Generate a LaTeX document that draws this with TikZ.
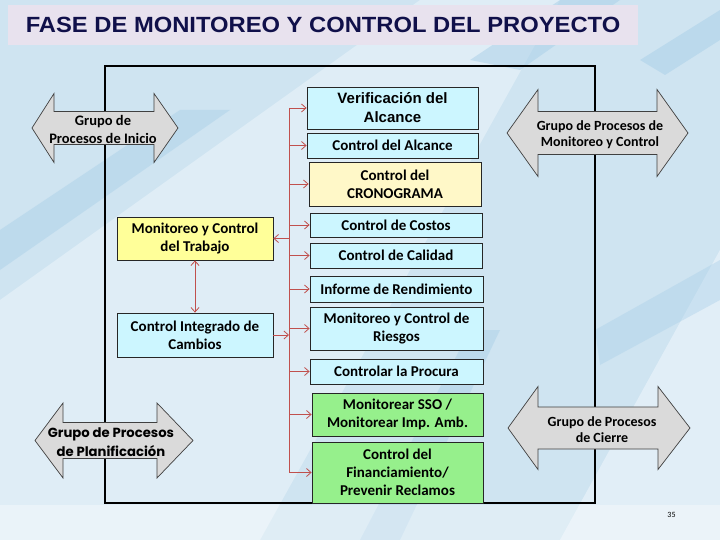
\documentclass[tikz,border=0pt]{standalone}
\usepackage{fontspec}
\setmainfont{Carlito}
\newfontfamily\arialf{Liberation Sans}
\newfontfamily\arialw[FakeStretch=1.08]{Liberation Sans}
\newfontfamily\gothicf{Poppins}
\usetikzlibrary{arrows.meta}
\definecolor{bgblue}{HTML}{CFE4F1}
\definecolor{bgdark}{HTML}{A9CFE8}
\definecolor{bglight}{HTML}{EAF3FA}
\definecolor{titlebg}{HTML}{E8E2EE}
\definecolor{titletxt}{HTML}{10104A}
\definecolor{cyanbox}{HTML}{CCF6FF}
\definecolor{yelbox}{HTML}{FFFF99}
\definecolor{paleyel}{HTML}{FFF8C8}
\definecolor{grnbox}{HTML}{96F08C}
\definecolor{connred}{HTML}{C0504D}
\definecolor{arrgray}{HTML}{DADADA}
\tikzset{
  box/.style={draw=black!85, line width=0.8pt, align=center, inner sep=1pt,
    font=\bfseries\fontsize{15}{18}\selectfont},
  cbox/.style={box, fill=cyanbox},
  ybox/.style={box, fill=yelbox},
  pbox/.style={box, fill=paleyel},
  gbox/.style={box, fill=grnbox},
  conn/.style={draw=connred, line width=0.8pt},
  tipped/.style={conn, -{Straight Barb[length=4.5pt,width=8pt]}},
  bitipped/.style={conn, {Straight Barb[length=4.5pt,width=8pt]}-{Straight Barb[length=4.5pt,width=8pt]}},
  garrow/.style={fill=arrgray, draw=black!75, line width=0.7pt, line join=miter},
  arrtext/.style={align=center, inner sep=0pt, font=\bfseries\fontsize{14}{16}\selectfont}
}
\begin{document}
\begin{tikzpicture}[x=1pt,y=-1pt]
\useasboundingbox (0,0) rectangle (720,540);
% background
\fill[bgblue] (0,0) rectangle (720,540);
\begin{scope}
\clip (0,0) rectangle (720,540);
\fill[bglight, opacity=0.6] (0,300) -- (0,540) -- (260,540) -- (560,0) -- (420,0) -- cycle;
\fill[bglight, opacity=0.7] (560,540) -- (720,540) -- (720,250) -- cycle;
\fill[bgdark, opacity=0.5] (470,60) -- (560,0) -- (620,0) -- (520,70) -- cycle;
\fill[bgdark, opacity=0.5] (640,60) -- (720,10) -- (720,40) -- (665,75) -- cycle;
\fill[bgdark, opacity=0.45] (0,230) -- (180,110) -- (230,110) -- (0,270) -- cycle;
\fill[bgdark, opacity=0.45] (360,540) -- (470,330) -- (500,330) -- (400,540) -- cycle;
\fill[bgdark, opacity=0.4] (595,330) -- (720,260) -- (720,300) -- (600,365) -- cycle;
\fill[white, opacity=0.35] (0,505) -- (720,505) -- (720,540) -- (0,540) -- cycle;
\end{scope}
% title
\node[fill=titlebg, minimum width=630, minimum height=40, inner sep=0pt,
  text=titletxt, font=\arialw\bfseries\fontsize{22}{24}\selectfont] (title) at (323,25)
  {FASE DE MONITOREO Y CONTROL DEL PROYECTO};
% frame
\draw[line width=2.6pt, black] (105,66) rectangle (595,503);
% double arrows
\draw[garrow] (32,128) -- (54,93.5) -- (54,111.5) -- (154,111.5) -- (154,93.5) -- (178,128)
  -- (154,162.5) -- (154,144.5) -- (54,144.5) -- (54,162.5) -- cycle;
\node[arrtext, font=\bfseries\fontsize{14.5}{18}\selectfont] (inicio) at (103,129) {Grupo de\\Procesos de Inicio};
\draw[garrow] (507,133) -- (538,89.5) -- (538,111.5) -- (657,111.5) -- (657,89.5) -- (688,133)
  -- (657,176.5) -- (657,154.5) -- (538,154.5) -- (538,176.5) -- cycle;
\node[arrtext] (moncon) at (600,135) {Grupo de Procesos de\\Monitoreo y Control};
\draw[garrow] (35,440.5) -- (63,403) -- (63,422.5) -- (157,422.5) -- (157,403) -- (193,440.5)
  -- (157,478) -- (157,458.5) -- (63,458.5) -- (63,478) -- cycle;
\node[arrtext, font=\gothicf\bfseries\fontsize{13.2}{19}\selectfont] (planif) at (111,442) {Grupo de Procesos\\de Planificación};
\draw[garrow] (508,428) -- (538,386.5) -- (538,407) -- (658,407) -- (658,386.5) -- (690,428)
  -- (658,469.5) -- (658,449) -- (538,449) -- (538,469.5) -- cycle;
\node[arrtext] (cierre) at (602,430) {Grupo de Procesos\\de Cierre};
% right column boxes
\node[cbox, minimum width=171, minimum height=42, font=\arialf\bfseries\fontsize{15}{19}\selectfont] (verif) at (392.5,108) {Verificación del\\Alcance};
\node[cbox, minimum width=171, minimum height=25] (calc) at (392.5,145.5) {Control del Alcance};
\node[pbox, minimum width=172, minimum height=44] (crono) at (395,184) {Control del\\CRONOGRAMA};
\node[cbox, minimum width=172, minimum height=24] (costos) at (396,225) {Control de Costos};
\node[cbox, minimum width=172, minimum height=25] (calidad) at (396,255.5) {Control de Calidad};
\node[cbox, minimum width=173, minimum height=26] (informe) at (396.5,289) {Informe de Rendimiento};
\node[cbox, minimum width=173, minimum height=43] (riesgos) at (396.5,328.5) {Monitoreo y Control de\\Riesgos};
\node[cbox, minimum width=173, minimum height=25] (procura) at (396.5,371.5) {Controlar la Procura};
\node[gbox, minimum width=171, minimum height=43] (sso) at (397.5,414.5) {Monitorear SSO /\\Monitorear Imp. Amb.};
\node[gbox, minimum width=171, minimum height=61] (financ) at (397.5,472.5) {Control del\\Financiamiento/\\Prevenir Reclamos};
% left boxes
\node[ybox, minimum width=156, minimum height=43] (trabajo) at (195,238.5) {Monitoreo y Control\\del Trabajo};
\node[cbox, minimum width=156, minimum height=44] (cambios) at (195,335) {Control Integrado de\\Cambios};
% connectors
\coordinate (bustop) at (289,108);
\coordinate (busbot) at (289,472.5);
\draw[conn] (bustop) -- (busbot);
\foreach \b in {verif,calc,crono,costos,calidad,informe,riesgos,procura,sso,financ}
  \draw[tipped] (\b.west -| bustop) -- (\b.west);
\draw[tipped] (trabajo.east -| bustop) -- (trabajo.east);
\draw[tipped] (cambios.east) -- (cambios.east -| bustop);
\draw[bitipped] (trabajo.south) -- (cambios.north);
% page number
\node[font=\fontsize{8}{9}\selectfont, inner sep=0pt] (pagenum) at (671.5,515) {35};
\end{tikzpicture}
\end{document}
